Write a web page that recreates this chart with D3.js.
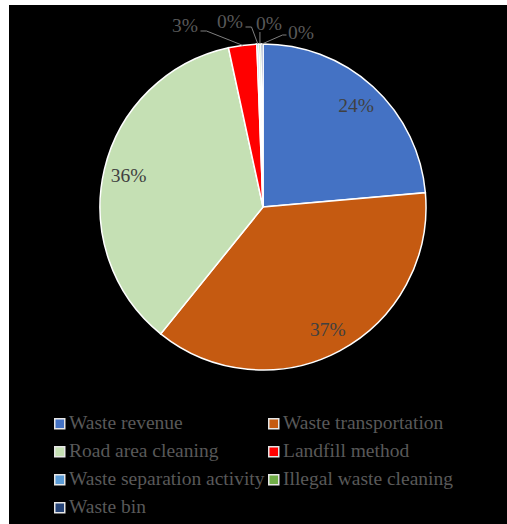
<!DOCTYPE html>
<html>
<head>
<meta charset="utf-8">
<script src="https://cdn.jsdelivr.net/npm/d3@7"></script>
<style>
  body { margin: 0; background: #fff; }
  svg { display: block; }
</style>
</head>
<body>
<div id="chart"></div>
<script>
// cost share per activity
const categories = [
    'Waste revenue', 'Waste transportation', 'Road area cleaning', 'Landfill method',
    'Waste separation activity', 'Illegal waste cleaning', 'Waste bin'
];
const values = [23.6, 37.2, 35.8, 2.8, 0.2, 0.2, 0.2];
const colors = ['#4472C4', '#C55A11', '#C5E0B4', '#FF0000', '#5B9BD5', '#70AD47', '#264478'];

const width = 507;
const height = 524;
const cx = 263, cy = 207, radius = 163;
const font = '"Liberation Serif", "Times New Roman", serif';

// label offsets (from pie center) for slices too small to hold their label
const outsideLabels = { 3: [-78, -182], 4: [-33, -186], 5: [6, -184], 6: [38, -175] };

const svg = d3.select('#chart')
    .append('svg')
    .attr('width', width)
    .attr('height', height);

svg.append('rect')
    .attr('x', 9).attr('y', 5)
    .attr('width', width - 9).attr('height', height - 5)
    .attr('fill', '#000');

const total = d3.sum(values);
const pie = d3.pie().sort(null).value(d => d)(values);
const arc = d3.arc().innerRadius(0).outerRadius(radius);
const labelArc = d3.arc().innerRadius(138).outerRadius(138);
const edgeArc = d3.arc().innerRadius(radius).outerRadius(radius);

const g = svg.append('g').attr('transform', `translate(${cx},${cy})`);

g.selectAll('path.slice')
    .data(pie)
    .enter()
    .append('path')
    .attr('class', 'slice')
    .attr('d', arc)
    .attr('fill', (d, i) => colors[i])
    .attr('stroke', '#fff')
    .attr('stroke-width', 1.5);

const pct = v => Math.round(v / total * 100) + '%';

// labels inside the big slices
g.selectAll('text.inside')
    .data(pie.filter((d, i) => !(i in outsideLabels)))
    .enter()
    .append('text')
    .attr('class', 'inside')
    .attr('transform', d => `translate(${labelArc.centroid(d)})`)
    .attr('text-anchor', 'middle')
    .attr('dy', '0.35em')
    .style('font-family', font)
    .style('font-size', '19.5px')
    .style('fill', '#404040')
    .text(d => pct(d.value));

// outside labels with leader lines
pie.forEach((d, i) => {
    if (!(i in outsideLabels)) return;
    const [lx, ly] = outsideLabels[i];
    const [ex, ey] = edgeArc.centroid(d);
    const w = 25;
    let pts;
    if (lx < -10) {
        pts = [[lx + w / 2 + 3, ly + 6], [lx + w / 2 + 9, ly + 6], [ex, ey]];
    } else if (lx < 20) {
        pts = [[ex, ly + 9], [ex, ey]];
    } else {
        pts = [[lx - w / 2 - 2, ly + 3], [lx - w / 2 - 6, ly + 3], [ex, ey]];
    }
    g.append('path')
        .attr('d', d3.line()(pts))
        .attr('fill', 'none')
        .attr('stroke', '#7f7f7f')
        .attr('stroke-width', 1);
    g.append('text')
        .attr('x', lx).attr('y', ly)
        .attr('text-anchor', 'middle')
        .attr('dy', '0.35em')
        .style('font-family', font)
        .style('font-size', '19.5px')
        .style('fill', '#595959')
        .text(pct(d.value));
});

// legend
const legend = svg.append('g');
const item = legend.selectAll('g')
    .data(categories)
    .enter()
    .append('g')
    .attr('transform', (d, i) => `translate(${i % 2 ? 268 : 54},${418 + Math.floor(i / 2) * 28})`);

item.append('rect')
    .attr('x', 0.75).attr('y', 0.75)
    .attr('width', 10).attr('height', 10)
    .attr('fill', (d, i) => colors[i])
    .attr('stroke', '#e6e6e6')
    .attr('stroke-width', 1.5);

item.append('text')
    .attr('x', 15)
    .attr('y', 11)
    .style('font-family', font)
    .style('font-size', '19.5px')
    .style('fill', '#595959')
    .text(d => d);
</script>
</body>
</html>
